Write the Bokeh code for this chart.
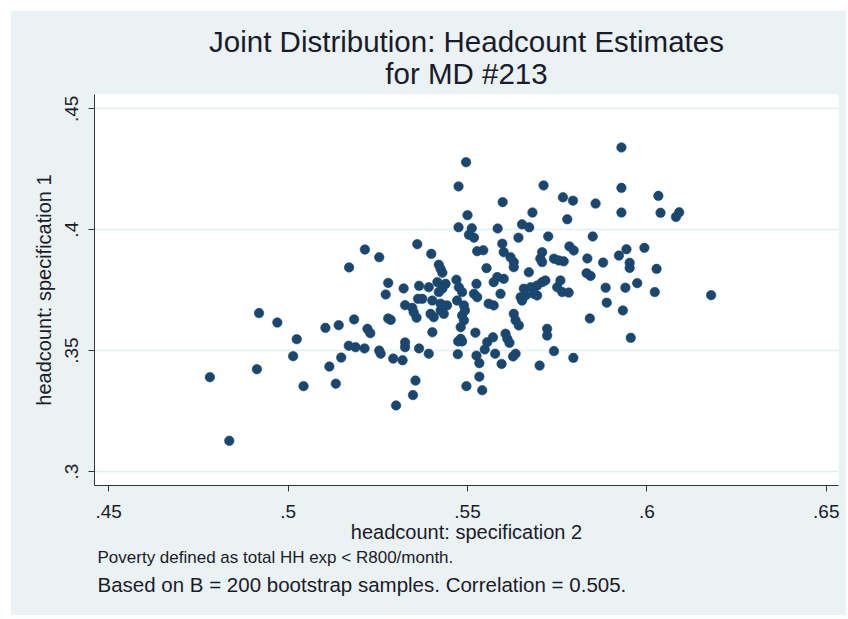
from bokeh.plotting import figure
from bokeh.models import FixedTicker, Title, ColumnDataSource
from bokeh.embed import file_html
from bokeh.resources import INLINE

# headcount: specification 2 (x) and specification 1 (y)
spec2 = [
    0.4782, 0.4836, 0.4919, 0.4913, 0.4970, 0.5024, 0.5014, 0.5043, 0.5104, 0.5141,
    0.5184, 0.5115, 0.5148, 0.5133, 0.5169, 0.5188, 0.5213, 0.5221, 0.5229, 0.5170,
    0.5214, 0.5254, 0.5360, 0.5279, 0.5272, 0.5322, 0.5279, 0.5286, 0.5326, 0.5346,
    0.5350, 0.5358, 0.5362, 0.5365, 0.5254, 0.5258, 0.5293, 0.5319, 0.5326, 0.5326,
    0.5365, 0.5355, 0.5348, 0.5301, 0.5392, 0.5474, 0.5485, 0.5473, 0.5525, 0.5548,
    0.5533, 0.5577, 0.5617, 0.5595, 0.5634, 0.5627, 0.5701, 0.5741, 0.5795, 0.5497,
    0.5533, 0.5541, 0.5496, 0.5475, 0.5598, 0.5712, 0.5766, 0.5794, 0.5500, 0.5475,
    0.5512, 0.5584, 0.5681, 0.5652, 0.5672, 0.5778, 0.5504, 0.5518, 0.5642, 0.5725,
    0.5929, 0.5929, 0.6032, 0.5857, 0.5929, 0.6038, 0.6090, 0.6081, 0.5849, 0.5784,
    0.5796, 0.5943, 0.5993, 0.5922, 0.5834, 0.5878, 0.5952, 0.5952, 0.6027, 0.5832,
    0.5843, 0.5885, 0.5940, 0.5973, 0.5782, 0.6022, 0.6179, 0.5888, 0.5933, 0.5841,
    0.5955, 0.5527, 0.5544, 0.5399, 0.5420, 0.5425, 0.5430, 0.5553, 0.5469, 0.5392,
    0.5416, 0.5439, 0.5430, 0.5420, 0.5476, 0.5485, 0.5525, 0.5518, 0.5527, 0.5374,
    0.5402, 0.5425, 0.5443, 0.5471, 0.5490, 0.5493, 0.5559, 0.5397, 0.5406, 0.5425,
    0.5434, 0.5485, 0.5490, 0.5402, 0.5481, 0.5522, 0.5481, 0.5555, 0.5571, 0.5597,
    0.5601, 0.5620, 0.5629, 0.5629, 0.5708, 0.5703, 0.5708, 0.5741, 0.5754, 0.5768,
    0.5671, 0.5583, 0.5601, 0.5573, 0.5592, 0.5657, 0.5676, 0.5694, 0.5708, 0.5717,
    0.5648, 0.5662, 0.5685, 0.5694, 0.5652, 0.5759, 0.5750, 0.5764, 0.5573, 0.5629,
    0.5634, 0.5643, 0.5722, 0.5722, 0.5606, 0.5611,
]
spec1 = [
    0.3390, 0.3127, 0.3655, 0.3423, 0.3616, 0.3547, 0.3477, 0.3353, 0.3594, 0.3605,
    0.3629, 0.3434, 0.3471, 0.3363, 0.3520, 0.3514, 0.3509, 0.3590, 0.3572, 0.3844,
    0.3918, 0.3886, 0.3940, 0.3780, 0.3732, 0.3757, 0.3633, 0.3627, 0.3688, 0.3677,
    0.3658, 0.3636, 0.3714, 0.3768, 0.3500, 0.3487, 0.3467, 0.3460, 0.3534, 0.3514,
    0.3509, 0.3376, 0.3316, 0.3273, 0.3487, 0.3538, 0.3538, 0.3485, 0.3479, 0.3505,
    0.3448, 0.3487, 0.3532, 0.3445, 0.3487, 0.3476, 0.3438, 0.3498, 0.3470, 0.3353,
    0.3392, 0.3336, 0.4279, 0.4179, 0.4114, 0.4183, 0.4134, 0.4120, 0.4060, 0.4010,
    0.4006, 0.4005, 0.4071, 0.4022, 0.4010, 0.4043, 0.3979, 0.3967, 0.3967, 0.3972,
    0.4340, 0.4173, 0.4140, 0.4108, 0.4071, 0.4070, 0.4072, 0.4053, 0.3972, 0.3931,
    0.3914, 0.3919, 0.3925, 0.3893, 0.3881, 0.3864, 0.3863, 0.3842, 0.3838, 0.3820,
    0.3809, 0.3760, 0.3760, 0.3779, 0.3740, 0.3742, 0.3729, 0.3698, 0.3666, 0.3633,
    0.3553, 0.3911, 0.3915, 0.3900, 0.3855, 0.3838, 0.3822, 0.3841, 0.3793, 0.3762,
    0.3783, 0.3776, 0.3756, 0.3742, 0.3762, 0.3742, 0.3776, 0.3735, 0.3721, 0.3714,
    0.3707, 0.3694, 0.3687, 0.3707, 0.3687, 0.3666, 0.3694, 0.3652, 0.3638, 0.3666,
    0.3652, 0.3645, 0.3625, 0.3576, 0.3597, 0.3574, 0.3549, 0.3535, 0.3555, 0.3942,
    0.3907, 0.3886, 0.3866, 0.3845, 0.3907, 0.3880, 0.3866, 0.3880, 0.3873, 0.3869,
    0.3824, 0.3804, 0.3797, 0.3783, 0.3735, 0.3756, 0.3762, 0.3769, 0.3783, 0.3790,
    0.3721, 0.3728, 0.3735, 0.3728, 0.3707, 0.3790, 0.3762, 0.3742, 0.3687, 0.3652,
    0.3625, 0.3604, 0.3590, 0.3562, 0.3570, 0.3549,
]

x_ticks = [0.45, 0.5, 0.55, 0.6, 0.65]
x_tick_labels = [".45", ".5", ".55", ".6", ".65"]
y_ticks = [0.3, 0.35, 0.4, 0.45]
y_tick_labels = [".3", ".35", ".4", ".45"]

title_lines = ["Joint Distribution: Headcount Estimates", "for MD #213"]
x_label = "headcount: specification 2"
y_label = "headcount: specification 1"
notes = ["Poverty defined as total HH exp < R800/month.",
         "Based on B = 200 bootstrap samples. Correlation = 0.505."]

BG = "#EAF2F3"
NAVY = "#1A476F"
TXT = "#1b1b2a"
FONT = "Liberation Sans"

p = figure(width=836, height=605,
           x_range=(0.44604, 0.6534), y_range=(0.29421, 0.45591),
           output_backend="svg", toolbar_location=None, title=None,
           min_border_left=84, min_border_right=8,
           min_border_top=84, min_border_bottom=130,
           background_fill_color="white", border_fill_color=BG)
p.margin = (10, 0, 0, 10)
p.outline_line_color = None

# title lines: the first one added sits closest to the plot
p.add_layout(Title(text=title_lines[1], align="center", text_font=FONT,
                   text_font_size="29.5px", text_font_style="normal",
                   text_line_height=0.8, text_color=TXT, standoff=10), "above")
p.add_layout(Title(text=title_lines[0], align="center", text_font=FONT,
                   text_font_size="29.5px", text_font_style="normal",
                   text_line_height=0.8, text_color=TXT, standoff=-16), "above")

src = ColumnDataSource(data=dict(x=spec2, y=spec1))
p.scatter("x", "y", source=src, size=9.5, marker="circle",
          fill_color=NAVY, line_color=NAVY, line_width=0.6)

p.xgrid.visible = False
p.ygrid.ticker = FixedTicker(ticks=y_ticks)
p.ygrid.grid_line_color = "#E4EEF1"
p.ygrid.grid_line_width = 1.6

for ax, ticks, labels, lab in ((p.xaxis[0], x_ticks, x_tick_labels, x_label),
                               (p.yaxis[0], y_ticks, y_tick_labels, y_label)):
    ax.ticker = FixedTicker(ticks=ticks)
    ax.major_label_overrides = dict(zip(ticks, labels))
    ax.minor_tick_line_color = None
    ax.major_tick_out = 6
    ax.major_tick_in = 0
    ax.axis_line_color = "#333333"
    ax.major_tick_line_color = "#333333"
    ax.major_label_text_font = FONT
    ax.major_label_text_font_size = "19px"
    ax.major_label_text_color = TXT
    ax.axis_label = lab
    ax.axis_label_text_font = FONT
    ax.axis_label_text_font_size = "20px"
    ax.axis_label_text_font_style = "normal"
    ax.axis_label_text_color = TXT

p.xaxis.major_label_standoff = 13
p.xaxis.axis_label_standoff = 0
p.yaxis.major_label_orientation = "vertical"
p.yaxis.major_label_standoff = 10
p.yaxis.axis_label_standoff = 8

p.add_layout(Title(text=notes[0], align="left", offset=3, text_font=FONT,
                   text_font_size="17px", text_font_style="normal",
                   text_color=TXT, standoff=1), "below")
p.add_layout(Title(text=notes[1], align="left", offset=3, text_font=FONT,
                   text_font_size="20.5px", text_font_style="normal",
                   text_color=TXT, standoff=6), "below")

open("out.html", "w").write(file_html(p, INLINE))
